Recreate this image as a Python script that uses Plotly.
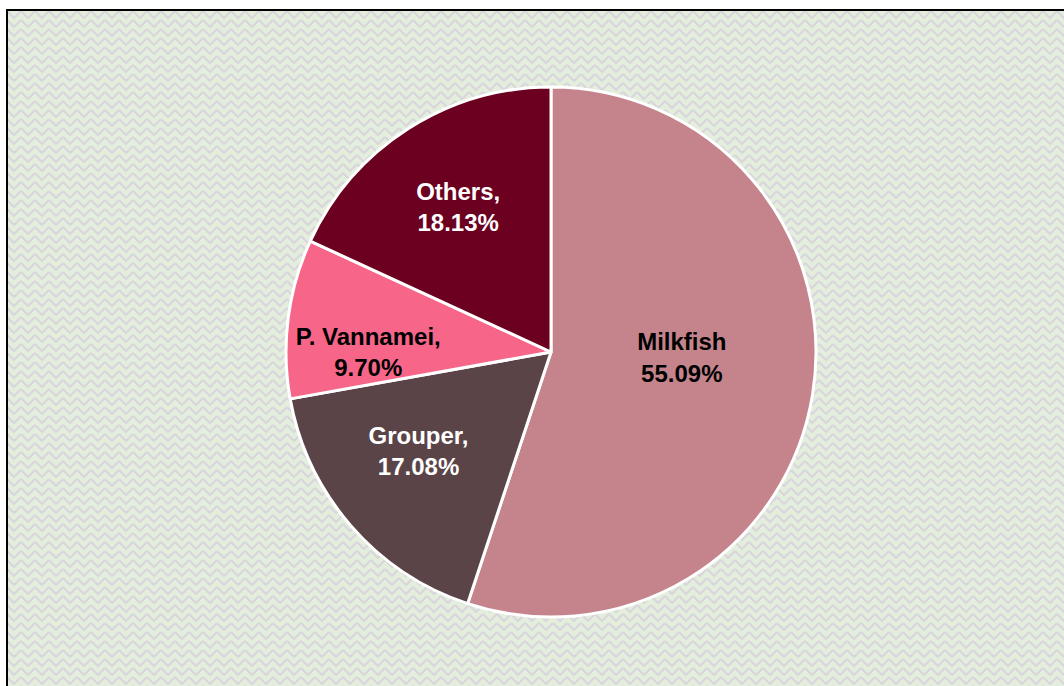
import base64
import plotly.graph_objects as go

categories = ["Milkfish", "Grouper", "P. Vannamei", "Others"]
shares = [55.09, 17.08, 9.70, 18.13]
label_text = [
    "Milkfish<br>55.09%<br>&nbsp;",
    "Grouper,<br>17.08%<br>&nbsp;",
    "&nbsp;&nbsp;&nbsp;&nbsp;P. Vannamei,<br>&nbsp;&nbsp;&nbsp;&nbsp;9.70%",
    "Others,<br>18.13%",
]
colors = ["#c5848c", "#5a4448", "#f76689", "#6b0020"]
text_colors = ["#000000", "#ffffff", "#000000", "#ffffff"]

W, H = 1064, 686
cx, cy, r = 551, 352, 265
bx, by = 7, 10  # border top-left in pixels

# background texture (light green with grey-lavender zigzags)
bw, bh = W - bx, H - by
svg = (
    f"<svg xmlns='http://www.w3.org/2000/svg' width='{bw}' height='{bh}' "
    f"viewBox='0 0 {bw} {bh}' preserveAspectRatio='none'>"
    "<defs><pattern id='p' width='14' height='9' patternUnits='userSpaceOnUse'>"
    "<rect width='14' height='9' fill='#e4eedc'/>"
    "<path d='M0 1 L3.5 4.5 L7 8 L10.5 4.5 L14 1' fill='none' stroke='#d9d6dd' stroke-width='2.2'/>"
    "</pattern></defs>"
    f"<rect width='{bw}' height='{bh}' fill='url(#p)'/></svg>"
)
src = "data:image/svg+xml;base64," + base64.b64encode(svg.encode()).decode()

font = dict(family="Liberation Sans, Arial, sans-serif", size=24, color=text_colors, weight="bold")

fig = go.Figure(go.Pie(
    labels=categories,
    values=shares,
    text=label_text,
    textinfo="text",
    textposition="inside",
    insidetextorientation="horizontal",
    sort=False,
    direction="clockwise",
    rotation=0,
    marker=dict(colors=colors, line=dict(color="#ffffff", width=3)),
    textfont=font,
    insidetextfont=font,
    domain=dict(x=[(cx - r) / W, (cx + r) / W], y=[(H - cy - r) / H, (H - cy + r) / H]),
    hoverinfo="label+percent",
    showlegend=False,
))

fig.update_layout(
    width=W, height=H,
    margin=dict(l=0, r=0, t=0, b=0),
    paper_bgcolor="#ffffff",
    showlegend=False,
    uniformtext=dict(minsize=24, mode="show"),
    images=[dict(source=src, xref="paper", yref="paper",
                 x=bx / W, y=1 - by / H, sizex=bw / W, sizey=bh / H,
                 xanchor="left", yanchor="top", sizing="stretch", layer="below")],
    shapes=[dict(type="rect", xref="paper", yref="paper",
                 x0=bx / W, x1=1.02, y0=-0.02, y1=1 - by / H,
                 line=dict(color="#000000", width=2), layer="above")],
)
fig.write_html("out.html", config={"displayModeBar": False},
               post_script="document.body.style.margin='0px';")
